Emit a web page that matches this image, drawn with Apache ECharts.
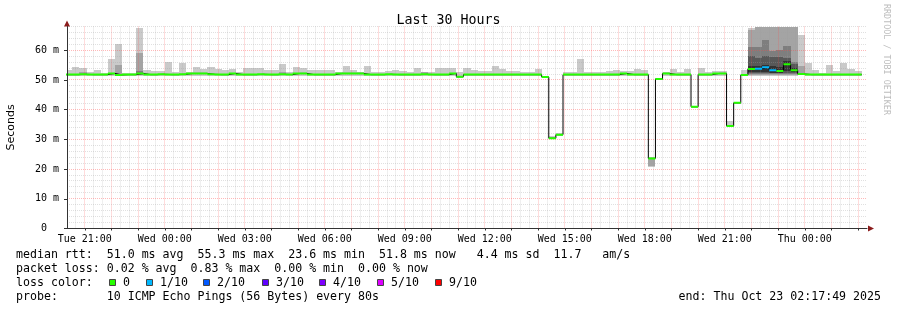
<!DOCTYPE html>
<html><head><meta charset="utf-8">
<script src="https://cdn.jsdelivr.net/npm/echarts@6/dist/echarts.min.js"></script>
<style>html,body{margin:0;padding:0;background:#fff}#c{width:897px;height:310px}</style>
</head><body><div id="c"></div>
<script>
// ---- time axis: minutes relative to Tue 21:00 ----
const xLabels = ['Tue 21:00','Wed 00:00','Wed 03:00','Wed 06:00','Wed 09:00','Wed 12:00','Wed 15:00','Wed 18:00','Wed 21:00','Thu 00:00'];
const xLabelMinutes = [0,180,360,540,720,900,1080,1260,1440,1620];
const yLabels = ['0  ','10 m','20 m','30 m','40 m','50 m','60 m'];
const firstStepStart = -44;   // minutes
const stepMinutes = 16;

// ---- median rtt per step (ms) ----
const median = [
 51.8,51.8,51.9,51.8,51.8,51.8,52.2,51.7,51.8,51.8,
 52.2,51.8,51.8,51.9,51.8,51.8,51.9,52.2,52.2,52.2,
 51.9,51.8,51.8,52.2,51.8,51.8,51.8,51.9,51.8,51.8,
 51.9,51.8,52.2,52.2,51.8,51.8,51.8,51.8,52.2,52.2,
 52.2,52.2,51.8,51.8,51.8,51.9,51.8,51.8,51.8,51.8,
 51.9,51.8,51.8,51.8,52.2,51.1,51.8,51.8,51.8,51.8,
 51.8,51.8,51.8,51.8,51.8,51.8,51.8,51.0,30.4,31.6,
 51.8,51.8,51.8,51.8,51.8,51.8,51.8,51.8,52.2,51.8,
 51.8,51.8,23.6,50.3,52.2,51.8,51.8,51.8,41.0,51.8,
 51.8,52.2,52.2,34.5,42.3,51.7,53.7,53.8,54.3,53.3,
 53.0,55.3,53.3,52.0,51.8,51.8,51.8,51.8,51.8,51.8,
 51.8,51.8
];
// lost pings (of 10) per step
const lossCount = [
 0,0,0,0,0,0,0,0,0,0, 0,0,0,0,0,0,0,0,0,0, 0,0,0,0,0,0,0,0,0,0,
 0,0,0,0,0,0,0,0,0,0, 0,0,0,0,0,0,0,0,0,0, 0,0,0,0,0,0,0,0,0,0,
 0,0,0,0,0,0,0,0,0,0, 0,0,0,0,0,0,0,0,0,0, 0,0,0,0,0,0,0,0,0,0,
 0,0,0,0,0,0,0,1,1,1, 0,0,0,0,0,0,0,0,0,0, 0,0
];
// outer smoke band (min .. max ping)
const smokeLo = [
 51.5,51.5,51.5,51.5,51.5,51.5,51.5,51.5,51.5,51.5,
 51.5,51.5,51.5,51.5,51.5,51.5,51.5,51.5,51.5,51.5,
 51.5,51.5,51.5,51.5,51.5,51.5,51.5,51.5,51.5,51.5,
 51.5,51.5,51.5,51.5,51.5,51.5,51.5,51.5,51.5,51.5,
 51.5,51.5,51.5,51.5,51.5,51.5,51.5,51.5,51.5,51.5,
 51.5,51.5,51.5,51.5,51.5,50.8,51.5,51.5,51.5,51.5,
 51.5,51.5,51.5,51.5,51.5,51.5,51.5,50.7,30.1,31.3,
 51.5,51.5,51.5,51.5,51.5,51.5,51.5,51.5,51.5,51.5,
 51.5,51.5,20.8,50.0,51.5,51.5,51.5,51.5,40.7,51.5,
 51.5,51.5,51.5,34.2,42.0,51.4,51.4,51.4,51.4,51.4,
 51.4,51.4,51.4,51.6,51.5,51.5,51.5,51.5,51.5,51.5,
 51.5,51.5
];
const smokeHi = [
 53.3,54.3,53.9,52.7,53.5,52.4,57.1,62.2,52.4,52.4,
 67.5,53.3,53.0,53.0,56.0,52.7,55.7,52.8,54.3,53.7,
 54.3,53.8,53.3,53.8,52.7,53.9,53.9,53.9,53.3,53.3,
 55.4,52.7,54.3,53.9,53.3,53.3,53.3,53.3,52.7,54.7,
 53.3,52.7,54.7,52.7,52.7,53.0,53.3,53.0,52.7,53.9,
 52.7,52.7,53.9,53.9,53.9,52.6,53.9,53.3,53.0,53.0,
 54.6,53.6,53.0,53.0,52.7,52.7,53.6,51.5,31.3,32.0,
 52.7,52.7,57.1,52.7,52.7,52.7,53.0,53.3,53.0,53.0,
 53.8,53.3,24.0,50.6,52.7,53.7,52.8,53.7,41.3,54.0,
 52.7,53.0,53.0,36.1,42.6,53.3,67.4,70.0,70.0,70.0,
 70.0,70.0,70.0,65.1,55.7,53.3,52.5,55.0,53.0,55.7,
 53.7,53.0
];
// inner smoke bands: [step, low, high]
const band2 = [[2,51.6,52.8],[7,51.6,55.0],[10,51.6,59.1],[30,51.6,52.7],[50,51.6,52.7],[82,21.0,23.8],
 [96,51.6,66.8],[97,51.6,70.0],[98,51.6,70.0],[99,51.6,70.0],[100,51.6,70.0],[101,51.6,70.0],[102,51.6,70.0],[103,51.7,54.7]];
const band3 = [[10,51.7,53.0],[96,51.9,61.1],[97,51.9,61.1],[98,51.9,63.5],[99,51.9,59.8],[100,51.9,60.1],[101,51.9,61.4],[102,51.9,56.0]];
const band4 = [[96,52.2,58.1],[97,52.2,57.4],[98,52.2,58.1],[99,52.2,57.7],[100,52.2,57.7],[101,52.3,57.4],[102,52.2,55.4]];
const band5 = [[96,52.6,54.7],[97,52.6,54.7],[98,52.8,55.0],[99,52.5,54.7],[100,52.5,54.3],[101,52.9,56.4],[102,52.6,54.0]];

const lossLabels = ['0','1/10','2/10','3/10','4/10','5/10','9/10'];
const lossUpper  = [0,1,2,3,4,8,10];
const lossColors = ['#26ff00','#00b8ff','#0059ff','#5e00ff','#7e00ff','#dd00ff','#ff0000'];
const smokeColors = ['#cacaca','#a4a4a4','#7e7e7e','#585858','#323232'];

const statsLines = [
 'median rtt:  51.0 ms avg  55.3 ms max  23.6 ms min  51.8 ms now   4.4 ms sd  11.7   am/s',
 'packet loss: 0.02 % avg  0.83 % max  0.00 % min  0.00 % now',
 'loss color:',
 'probe:       10 ICMP Echo Pings (56 Bytes) every 80s'
];
const endText = 'end: Thu Oct 23 02:17:49 2025';

// ---------------------------------------------------------------
const MONO = 'DejaVu Sans Mono';
function stepSpan(s){ const t0 = firstStepStart + s*stepMinutes; return [t0, t0 + stepMinutes]; }

function rectSeries(items, color, z){
  return {
    type:'custom', z, silent:true, animation:false,
    data: items.map(([s,lo,hi]) => { const [a,b] = stepSpan(s); return [a,b,lo,hi]; }),
    encode:{x:[0,1], y:[2,3]},
    renderItem(params, api){
      const cs = params.coordSys;
      const p0 = api.coord([api.value(0), api.value(2)]);
      const p1 = api.coord([api.value(1), api.value(3)]);
      const x0 = Math.round(Math.max(p0[0], cs.x)), x1 = Math.round(Math.min(p1[0], cs.x+cs.width));
      const yT = Math.round(Math.max(p1[1], cs.y)), yB = Math.round(Math.min(p0[1], cs.y+cs.height));
      if (x1 <= x0 || yB <= yT) return null;
      return {type:'rect', shape:{x:x0,y:yT,width:x1-x0,height:yB-yT}, style:{fill:color}};
    }
  };
}

const band1 = median.map((_, s) => [s, smokeLo[s], smokeHi[s]]);

// grid lines
const vGrid = [];
for (let v = -20; v < 1760; v += 20) vGrid.push([v, 0, v % 60 === 0 ? 1 : 0]);
const hGrid = [];
for (let v = 2; v <= 68; v += 2) hGrid.push([-40, v, v % 10 === 0 ? 1 : 0]);
const MAJOR = 'rgba(255,70,70,0.38)', MINOR = 'rgba(160,160,160,0.32)';

const gridV = {
  type:'custom', z:2, silent:true, animation:false, data:vGrid, encode:{x:0,y:1},
  renderItem(params, api){
    const cs = params.coordSys;
    const x = Math.floor(api.coord([api.value(0), 0])[0]) + 0.5;
    return {type:'line', shape:{x1:x,y1:cs.y,x2:x,y2:cs.y+cs.height},
      style:{stroke: api.value(2) ? MAJOR : MINOR, lineWidth:1, lineDash:[1,1]}};
  }
};
const gridH = {
  type:'custom', z:2, silent:true, animation:false, data:hGrid, encode:{x:0,y:1},
  renderItem(params, api){
    const cs = params.coordSys;
    const y = Math.floor(api.coord([-40, api.value(1)])[1]) + 0.5;
    return {type:'line', shape:{x1:cs.x,y1:y,x2:cs.x+cs.width,y2:y},
      style:{stroke: api.value(2) ? MAJOR : MINOR, lineWidth:1, lineDash:[1,1]}};
  }
};

// black median step line
const medLine = median.map((m, s) => [stepSpan(s)[0], m]);
medLine.push([stepSpan(median.length-1)[1], median[median.length-1]]);

const lossSeries = lossColors.map((color, ci) => {
  const data = [];
  median.forEach((m, s) => {
    if (lossUpper.findIndex(u => lossCount[s] <= u) !== ci) return;
    const [a,b] = stepSpan(s);
    data.push([a,m],[b,m],[b,null]);
  });
  return {type:'line', name:lossLabels[ci], data, z:4, symbol:'none', showSymbol:false,
    connectNulls:false, silent:true, animation:false, lineStyle:{color, width:2, cap:'butt'}};
});

// legend boxes for the loss colours (layout)
const legendBoxX = [109,146,203,262,319,377,435];
const graphics = [];
const rowY = [254.5, 268.5, 282.5, 296.5];
statsLines.forEach((t, i) => graphics.push({type:'text', x:16, y:rowY[i], silent:true,
  style:{text:t, fontFamily:MONO, fontSize:11.6, fill:'#000', align:'left', verticalAlign:'middle'}}));
graphics.push({type:'text', x:881, y:rowY[3], silent:true,
  style:{text:endText, fontFamily:MONO, fontSize:11.6, fill:'#000', align:'right', verticalAlign:'middle'}});
lossLabels.forEach((lab, i) => {
  graphics.push({type:'rect', silent:true, shape:{x:legendBoxX[i]+0.5, y:279.5, width:6, height:6},
    style:{fill:lossColors[i], stroke:'#444', lineWidth:1}});
  graphics.push({type:'text', x:legendBoxX[i]+14, y:rowY[2], silent:true,
    style:{text:lab, fontFamily:MONO, fontSize:11.6, fill:'#000', align:'left', verticalAlign:'middle'}});
});
graphics.push({type:'text', x:886, y:4, rotation:-Math.PI/2, silent:true,
  style:{text:'RRDTOOL / TOBI OETIKER', fontFamily:MONO, fontSize:8.4, fill:'#bdbdbd', align:'left', verticalAlign:'middle'}});

const chart = echarts.init(document.getElementById('c'), null, {renderer:'canvas'});
chart.setOption({
  animation:false,
  backgroundColor:'#fff',
  title:{text:'Last 30 Hours', left:'center', top:9,
    textStyle:{fontFamily:MONO, fontSize:13.3, fontWeight:'normal', color:'#000'}},
  grid:{left:67, right:30, top:26.5, bottom:81.5, containLabel:false, outerBoundsMode:'none'},
  xAxis:{type:'value', min:-40, max:1760, z:10,
    axisLine:{show:true, onZero:false, lineStyle:{color:'#333', width:1}},
    axisTick:{show:true, customValues:xLabelMinutes.concat([60,120,240,300,420,480,600,660,780,840,960,1020,1140,1200,1320,1380,1500,1560,1680,1740]), length:2, lineStyle:{color:'#333'}},
    axisLabel:{customValues:xLabelMinutes, formatter:(v)=>{const i=xLabelMinutes.indexOf(v); return i<0?'':xLabels[i];},
      fontFamily:MONO, fontSize:10, color:'#000', margin:6, hideOverlap:false},
    splitLine:{show:false}, minorSplitLine:{show:false}},
  yAxis:{type:'value', min:0, max:68, interval:10, z:10,
    name:'Seconds', nameLocation:'middle', nameGap:50,
    nameTextStyle:{fontFamily:'DejaVu Sans', fontSize:11, color:'#000'},
    axisLine:{show:true, onZero:false, lineStyle:{color:'#333', width:1}},
    axisTick:{show:true, length:3, customValues:[0,10,20,30,40,50,60], lineStyle:{color:'#333'}},
    axisLabel:{formatter:(v)=> (v % 10 === 0 && yLabels[v/10] !== undefined) ? yLabels[v/10] : '',
      showMaxLabel:false, fontFamily:MONO, fontSize:10, color:'#000', margin:8},
    splitLine:{show:false}},
  series:[
    rectSeries(band1, smokeColors[0], 1),
    rectSeries(band2, smokeColors[1], 1),
    rectSeries(band3, smokeColors[2], 1),
    rectSeries(band4, smokeColors[3], 1),
    rectSeries(band5, smokeColors[4], 1),
    gridV, gridH,
    {type:'line', name:'median', data:medLine, step:'end', z:3, symbol:'none', showSymbol:false, silent:true,
      animation:false, lineStyle:{color:'#000', width:1},
      markPoint:{silent:true, animation:false, label:{show:false}, itemStyle:{color:'#8b1c1c'},
        data:[{coord:[1760,0], symbol:'triangle', symbolSize:[6,6], symbolRotate:-90, symbolOffset:[4,0]},
              {coord:[-40,68], symbol:'triangle', symbolSize:[6,6], symbolRotate:0, symbolOffset:[0,-3]}]}},
    ...lossSeries
  ],
  graphic:graphics
});
</script></body></html>
